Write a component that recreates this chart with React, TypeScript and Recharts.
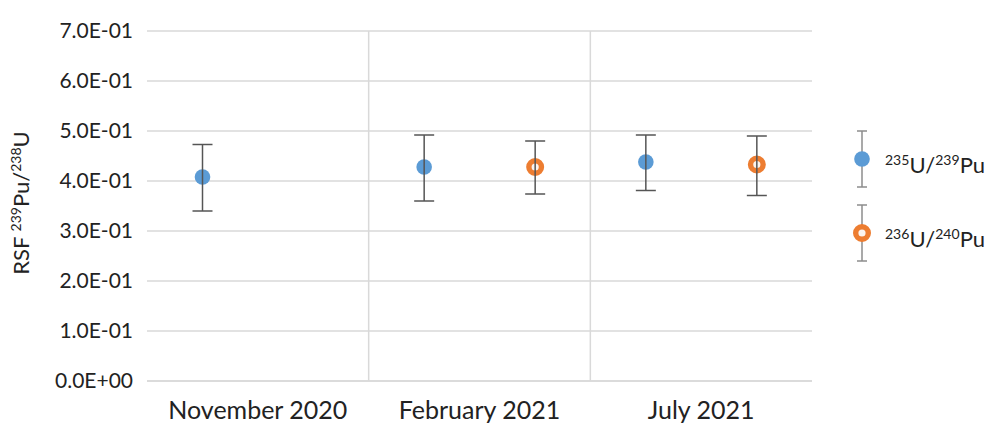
import React from "react";
import { ComposedChart, Bar, ErrorBar, XAxis, YAxis, CartesianGrid, Legend, Label } from "recharts";

const categories = ["November 2020", "February 2021", "July 2021"];
const yTicks = [0, 0.1, 0.2, 0.3, 0.4, 0.5, 0.6, 0.7];

// 235U/239Pu
const u235Values = [0.408, 0.428, 0.438];
const u235Low = [0.34, 0.36, 0.381];
const u235High = [0.473, 0.492, 0.492];

// 236U/240Pu (no value for November 2020)
const u236Values = [null, 0.428, 0.433];
const u236Low = [null, 0.374, 0.371];
const u236High = [null, 0.48, 0.49];

const BLUE = "#5B9BD5";
const ORANGE = "#ED7D31";
const GRID = "#d9d9d9";
const TEXT = "#222";

const errOf = (v: number | null, lo: number | null, hi: number | null) =>
  v == null || lo == null || hi == null ? null : [v - lo, hi - v];

const data = categories.map((name, i) => ({
  name,
  u235: u235Values[i],
  u235Err: errOf(u235Values[i], u235Low[i], u235High[i]),
  u236: u236Values[i],
  u236Err: errOf(u236Values[i], u236Low[i], u236High[i]),
}));

const fmtSci = (v: number) => {
  const [m, e] = v.toExponential(1).split("e");
  return `${m}E${e[0]}${e.slice(1).padStart(2, "0")}`;
};

function Marker(props: any) {
  const { x, y, width, payload, k, hollow } = props;
  if (payload?.[k] == null || !Number.isFinite(y)) return <g />;
  const cx = x + width / 2;
  return hollow ? (
    <circle cx={cx} cy={y} r={6.3} fill="#fbf4ef" stroke={ORANGE} strokeWidth={5.4} />
  ) : (
    <circle cx={cx} cy={y} r={7.8} fill={BLUE} />
  );
}

function YTitle({ viewBox }: any) {
  const cx = viewBox.x + 22;
  const cy = viewBox.y + viewBox.height / 2 - 3;
  return (
    <text transform={`translate(${cx},${cy}) rotate(-90)`} y={7} textAnchor="middle" fontSize={22} fill={TEXT}>
      RSF <tspan fontSize={14} dy={-8}>239</tspan>
      <tspan dy={8}>Pu/</tspan>
      <tspan fontSize={14} dy={-8}>238</tspan>
      <tspan dy={8}>U</tspan>
    </text>
  );
}

const legendItems = [
  { mass: "235", pu: "239", color: BLUE, hollow: false },
  { mass: "236", pu: "240", color: ORANGE, hollow: true },
];

function LegendBox() {
  return (
    <div style={{ fontFamily: "Lato", color: TEXT }}>
      {legendItems.map((it) => (
        <div key={it.mass} style={{ display: "flex", alignItems: "center", height: 74 }}>
          <svg width={28} height={64}>
            <line x1={14} x2={14} y1={4} y2={60} stroke="#8c8c8c" strokeWidth={1.5} />
            <line x1={9} x2={19} y1={4} y2={4} stroke="#8c8c8c" strokeWidth={1.5} />
            <line x1={9} x2={19} y1={60} y2={60} stroke="#8c8c8c" strokeWidth={1.5} />
            {it.hollow ? (
              <circle cx={14} cy={32} r={6.3} fill="#fbf4ef" stroke={it.color} strokeWidth={5.4} />
            ) : (
              <circle cx={14} cy={32} r={7.8} fill={it.color} />
            )}
          </svg>
          <span style={{ marginLeft: 9, fontSize: 22, paddingTop: 12 }}>
            <sup style={{ fontSize: 14 }}>{it.mass}</sup>U/<sup style={{ fontSize: 14 }}>{it.pu}</sup>Pu
          </span>
        </div>
      ))}
    </div>
  );
}

export default function App() {
  return (
    <div style={{ position: "absolute", left: 0, top: 0, background: "#fff" }}>
      <ComposedChart
        width={999}
        height={428}
        data={data}
        margin={{ top: 31, right: 187, bottom: 0, left: 0 }}
        barCategoryGap={0}
        barGap={0}
        style={{ fontFamily: "Lato" }}
      >
        <CartesianGrid
          stroke={GRID}
          strokeWidth={1.5}
          verticalCoordinatesGenerator={({ offset }: any) =>
            categories.slice(1).map((_, i) => offset.left + (offset.width * (i + 1)) / categories.length)
          }
        />
        <XAxis
          dataKey="name"
          interval={0}
          tickLine={false}
          axisLine={{ stroke: GRID, strokeWidth: 1.5 }}
          height={47}
          tickSize={6}
          tickMargin={14}
          tick={{ fontSize: 25, fill: TEXT }}
        />
        <YAxis
          domain={[0, 0.7]}
          ticks={yTicks}
          width={147}
          axisLine={false}
          tickLine={false}
          tickSize={6}
          tickMargin={8}
          tickFormatter={fmtSci}
          tick={{ fontSize: 21, fill: TEXT }}
        >
          <Label content={<YTitle />} />
        </YAxis>
        <Bar dataKey="u235" fill={BLUE} isAnimationActive={false} shape={(p: any) => <Marker {...p} k="u235" />}>
          <ErrorBar dataKey="u235Err" direction="y" width={10} stroke="#555" strokeWidth={1.5} />
        </Bar>
        <Bar dataKey="u236" fill={ORANGE} isAnimationActive={false} shape={(p: any) => <Marker {...p} k="u236" hollow />}>
          <ErrorBar dataKey="u236Err" direction="y" width={10} stroke="#555" strokeWidth={1.5} />
        </Bar>
        <Legend
          layout="vertical"
          align="center"
          verticalAlign="middle"
          wrapperStyle={{ position: "absolute", left: 848, top: 122, width: 151 }}
          content={() => <LegendBox />}
        />
      </ComposedChart>
    </div>
  );
}
